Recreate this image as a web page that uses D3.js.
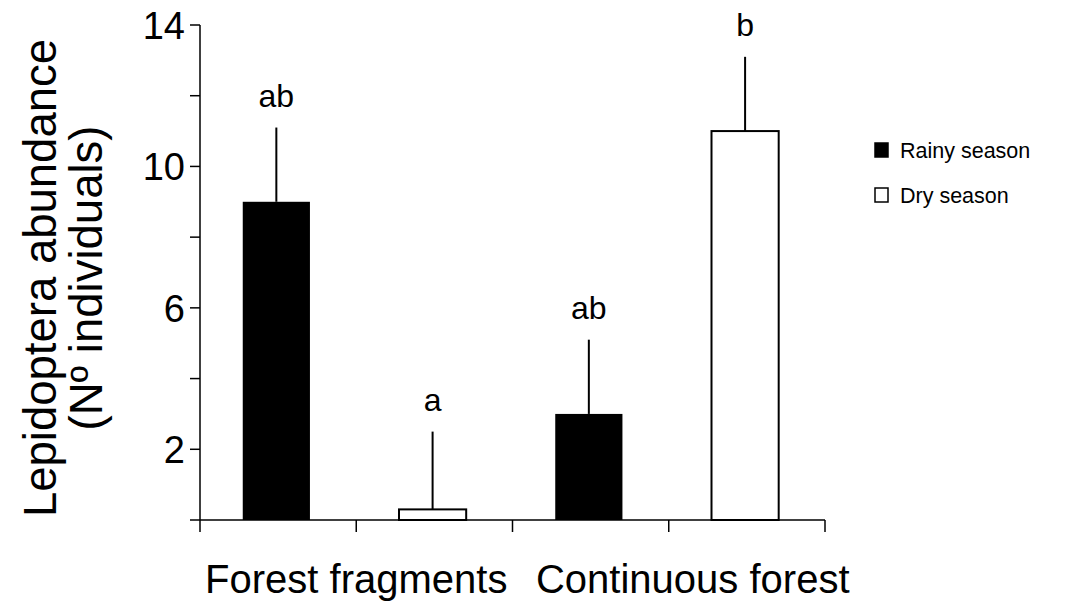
<!DOCTYPE html>
<html>
<head>
<meta charset="utf-8">
<script src="https://cdn.jsdelivr.net/npm/d3@7/dist/d3.min.js"></script>
<style>
  html, body { margin: 0; padding: 0; background: #fff; }
  svg { display: block; font-family: "Liberation Sans", Arial, sans-serif; }
</style>
</head>
<body>
<svg id="chart" width="1067" height="609"></svg>
<script>
// Habitat groups and the season within each
const groups = ["Forest fragments", "Continuous forest"];
const seasons = ["Rainy season", "Dry season"];

// One entry per bar, in drawing order
const barGroup  = ["Forest fragments", "Forest fragments", "Continuous forest", "Continuous forest"];
const barSeason = ["Rainy season", "Dry season", "Rainy season", "Dry season"];
const barMean   = [9, 0.3, 3, 11];
const barError  = [2.1, 2.2, 2.1, 2.1];
const barLetter = ["ab", "a", "ab", "b"];

// Y axis ticks: every 2 units, labels on some of them
const yTicks = [0, 2, 4, 6, 8, 10, 12, 14];
const yTickLabels = [2, 6, 10, 14];

const svg = d3.select("#chart");

const x0 = 200, x1 = 825, yTop = 25, yBottom = 520;

const y = d3.scaleLinear().domain([0, 14]).range([yBottom, yTop]);

const bars = barMean.map((m, i) => ({
  key: barGroup[i] + "|" + barSeason[i],
  group: barGroup[i], season: barSeason[i],
  mean: m, err: barError[i], letter: barLetter[i]
}));

const x = d3.scaleBand()
  .domain(bars.map(d => d.key))
  .range([x0, x1])
  .paddingInner(0.57)
  .paddingOuter(0.285)
  .align(0.48);

const fill = d3.scaleOrdinal().domain(seasons).range(["#000", "#fff"]);

// Bars
svg.append("g").selectAll("rect")
  .data(bars)
  .join("rect")
  .attr("x", d => x(d.key))
  .attr("y", d => y(d.mean))
  .attr("width", x.bandwidth())
  .attr("height", d => y(0) - y(d.mean))
  .attr("fill", d => fill(d.season))
  .attr("stroke", "#000")
  .attr("stroke-width", d => d.season === "Dry season" ? 2 : 0);

// Upper error lines
svg.append("g").selectAll("line")
  .data(bars)
  .join("line")
  .attr("x1", d => x(d.key) + x.bandwidth() / 2)
  .attr("x2", d => x(d.key) + x.bandwidth() / 2)
  .attr("y1", d => y(d.mean))
  .attr("y2", d => y(d.mean + d.err))
  .attr("stroke", "#000")
  .attr("stroke-width", 2);

// Significance letters
svg.append("g").selectAll("text")
  .data(bars)
  .join("text")
  .attr("x", d => x(d.key) + x.bandwidth() / 2)
  .attr("y", d => y(d.mean + d.err) - 21)
  .attr("text-anchor", "middle")
  .attr("font-size", 32)
  .attr("fill", "#000")
  .text(d => d.letter);

// Y axis
const yAxis = svg.append("g");
yAxis.append("line")
  .attr("x1", x0).attr("x2", x0)
  .attr("y1", y(14)).attr("y2", y(0))
  .attr("stroke", "#000").attr("stroke-width", 1.5);
yAxis.selectAll("line.tick")
  .data(yTicks)
  .join("line")
  .attr("class", "tick")
  .attr("x1", x0 - 10).attr("x2", x0)
  .attr("y1", d => y(d)).attr("y2", d => y(d))
  .attr("stroke", "#000").attr("stroke-width", 1.5);
yAxis.selectAll("text")
  .data(yTickLabels)
  .join("text")
  .attr("x", x0 - 15)
  .attr("y", d => y(d))
  .attr("dy", "0.36em")
  .attr("text-anchor", "end")
  .attr("font-size", 38)
  .text(d => d);

// X axis with ticks at the group/season boundaries
const xAxis = svg.append("g");
xAxis.append("line")
  .attr("x1", x0).attr("x2", x1)
  .attr("y1", yBottom).attr("y2", yBottom)
  .attr("stroke", "#000").attr("stroke-width", 1.5);
const step = (x1 - x0) / bars.length;
const xTickPos = d3.range(bars.length + 1).map(i => x0 + i * step);
xAxis.selectAll("line.tick")
  .data(xTickPos)
  .join("line")
  .attr("class", "tick")
  .attr("x1", d => d).attr("x2", d => d)
  .attr("y1", yBottom).attr("y2", yBottom + 12)
  .attr("stroke", "#000").attr("stroke-width", 1.5);

// Group labels
const groupCenter = g => {
  const i = groups.indexOf(g);
  return x0 + (i + 0.5) * 2 * step;
};
const groupShift = [0, 24];
xAxis.selectAll("text")
  .data(groups)
  .join("text")
  .attr("x", (g, i) => groupCenter(g) + groupShift[i])
  .attr("y", 593)
  .attr("text-anchor", "middle")
  .attr("font-size", 40)
  .text(g => g);

// Y axis title, two lines
const title = svg.append("text")
  .attr("transform", "translate(0,278) rotate(-90)")
  .attr("text-anchor", "middle")
  .attr("font-size", 45.5);
title.append("tspan").attr("x", 0).attr("y", 56).text("Lepidoptera abundance");
title.append("tspan").attr("x", 0).attr("y", 102).text("(Nº individuals)");

// Legend
const legend = svg.append("g").selectAll("g")
  .data(seasons)
  .join("g")
  .attr("transform", (d, i) => `translate(875,${143 + i * 45})`);
legend.append("rect")
  .attr("x", 0).attr("y", 0)
  .attr("width", 13).attr("height", 14)
  .attr("fill", d => fill(d))
  .attr("stroke", "#000").attr("stroke-width", 1.5);
legend.append("text")
  .attr("x", 25).attr("y", 15)
  .attr("font-size", 21.5)
  .text(d => d);
</script>
</body>
</html>
